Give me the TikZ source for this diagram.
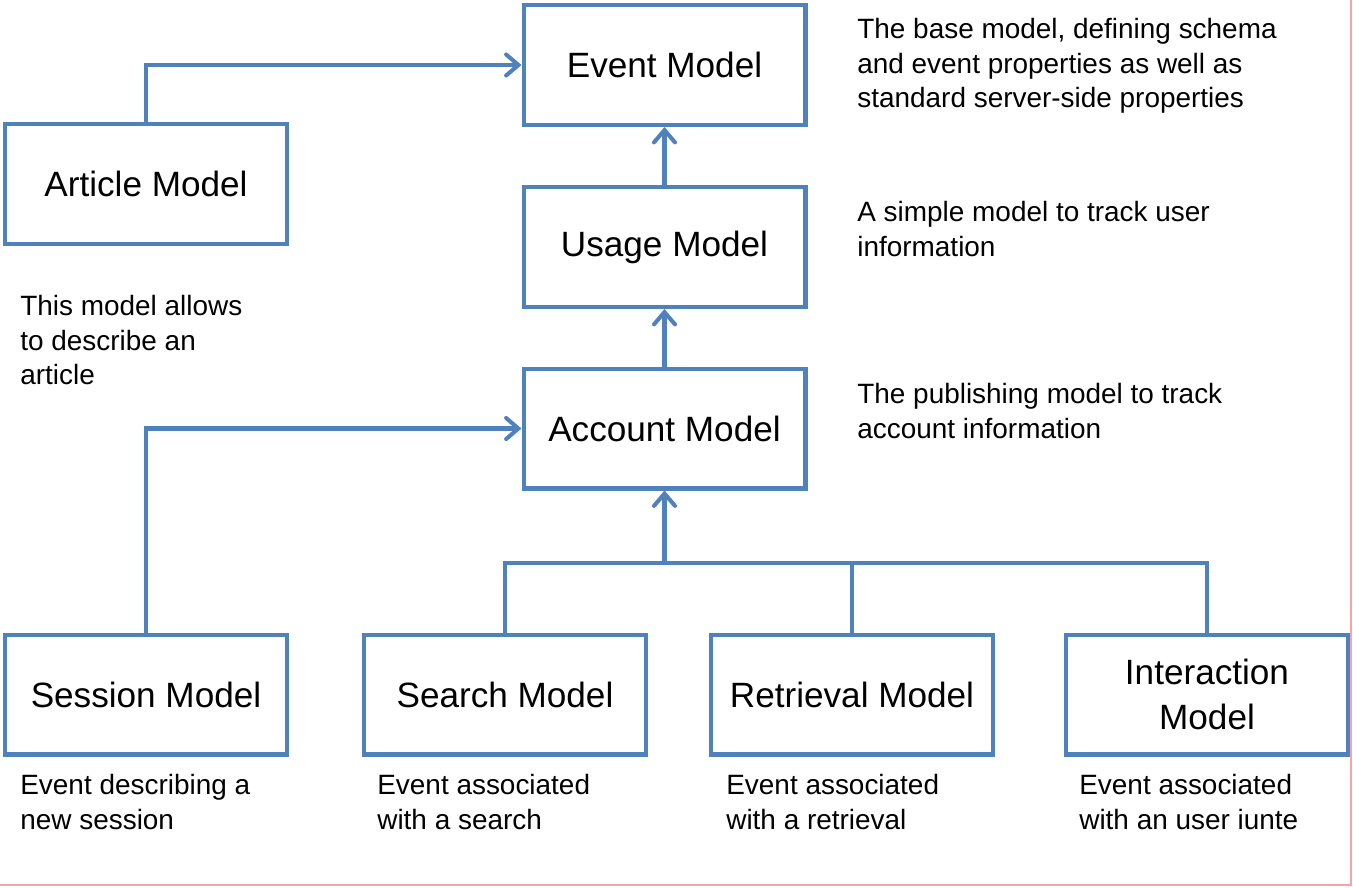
\documentclass[tikz,border=0pt]{standalone}
\usepackage{fontspec}
\setmainfont{Liberation Sans}
\usetikzlibrary{arrows.meta}

\definecolor{modelblue}{RGB}{79,129,189}
\definecolor{framepink}{RGB}{245,165,165}

\begin{document}
\begin{tikzpicture}[x=0.02cm,y=-0.02cm,
			>={Straight Barb[length=7pt,width=12pt,line cap=round]},
			model/.style={draw=modelblue,line width=2.3pt,minimum width=5.64cm,minimum height=2.4cm,
				align=center,font=\fontsize{20}{25.5}\selectfont},
			note/.style={anchor=north west,inner sep=0pt,align=left,font=\fontsize{15.9}{19.6}\selectfont},
			link/.style={draw=modelblue,line width=2.3pt,line cap=round,->},
			wire/.style={draw=modelblue,line width=2.3pt,line cap=round}]

			\useasboundingbox (0,0) rectangle (1353,887);
			\draw[framepink,line width=0.8pt] (0,885) -- (1351,885) -- (1351,0);

			\node[model] at (664.5,65) (event) {Event Model};
			\node[model] at (146,184) (article) {Article Model};
			\node[model] at (664.5,247) (usage) {Usage Model};
			\node[model] at (664.5,428.5) (account) {Account Model};
			\node[model] at (146,694.5) (session) {Session Model};
			\node[model] at (505,694.5) (search) {Search Model};
			\node[model] at (852,694.5) (retrieval) {Retrieval Model};
			\node[model] at (1207,694.5) (interaction) {Interaction\\Model};

			\node[note] at (857,18) (eventNote) {The base model, defining schema\\and event properties as well as\\standard server-side properties};
			\node[note] at (857,201) (usageNote) {A simple model to track user\\information};
			\node[note] at (857,383) (accountNote) {The publishing model to track\\account information};
			\node[note] at (20,295) (articleNote) {This model allows\\to describe an\\article};
			\node[note] at (20,774) (sessionNote) {Event describing a\\new session};
			\node[note] at (377,774) (searchNote) {Event associated\\with a search};
			\node[note] at (726,774) (retrievalNote) {Event associated\\with a retrieval};
			\node[note] at (1079,774) (interactionNote) {Event associated\\with an user iunte};

			\coordinate (bus) at (664.5,563);

			\draw[link] (article.north) |- (event.west);
			\draw[link] (usage.north) -- (event.south);
			\draw[link] (account.north) -- (usage.south);
			\draw[link] (session.north) |- (account.west);
			\draw[wire] (search.north) |- (interaction.north |- bus) -- (interaction.north);
			\draw[wire] (retrieval.north) -- (retrieval.north |- bus);
			\draw[link] (bus) -- (account.south);

		\end{tikzpicture}
\end{document}
